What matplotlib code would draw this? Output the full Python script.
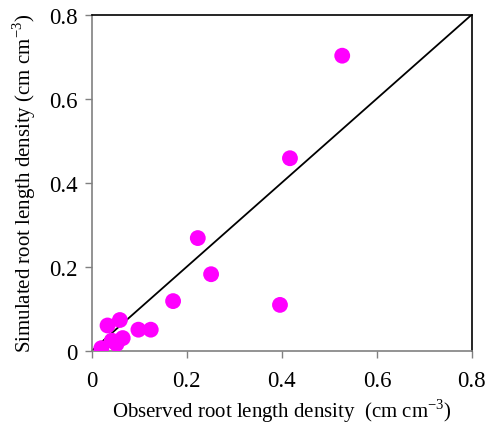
import matplotlib as mpl
mpl.use("Agg")
import matplotlib.pyplot as plt

mpl.rcParams.update({"font.family": "Liberation Serif", "font.size": 15,
                     "mathtext.fontset": "custom", "mathtext.rm": "Liberation Serif"})

# observed vs simulated root length density (cm cm-3)
observed = [0.527, 0.417, 0.223, 0.251, 0.171, 0.396,
            0.033, 0.059, 0.098, 0.124, 0.065, 0.052, 0.042, 0.020]
simulated = [0.702, 0.458, 0.268, 0.182, 0.118, 0.109,
             0.060, 0.073, 0.050, 0.050, 0.030, 0.016, 0.024, 0.006]
ticks = [0, 0.2, 0.4, 0.6, 0.8]
tick_labels = ["0", "0.2", "0.4", "0.6", "0.8"]

fig = plt.figure(figsize=(4.86, 4.31), dpi=100)
ax = fig.add_axes([0.189, 0.184, 0.782, 0.78])

ax.plot([0, 0.8], [0, 0.8], color="black", lw=1.3, zorder=2)
ax.scatter(observed, simulated, s=130, color="#ff00ff", edgecolors="none", zorder=3)

ax.set_xlim(0, 0.8)
ax.set_ylim(0, 0.8)
ax.set_xticks(ticks)
ax.set_yticks(ticks)
ax.set_xticklabels(tick_labels, fontsize=16.5)
ax.set_yticklabels(tick_labels, fontsize=16.5)
ax.tick_params(direction="out", length=5, width=1, color="#808080")
ax.tick_params(axis="x", pad=9)
ax.tick_params(axis="y", pad=5)

for side in ["left", "bottom"]:
    ax.spines[side].set_color("#808080")
for side in ["top", "right"]:
    ax.spines[side].set_color("black")
for sp in ax.spines.values():
    sp.set_linewidth(1.2)

ax.set_xlabel("Observed root length density  (cm cm$^{\\mathregular{-3}}$)", labelpad=4)
ax.set_ylabel("Simulated root length density (cm cm$^{\\mathregular{-3}}$)", labelpad=8)

fig.savefig("out.png", dpi=100)
